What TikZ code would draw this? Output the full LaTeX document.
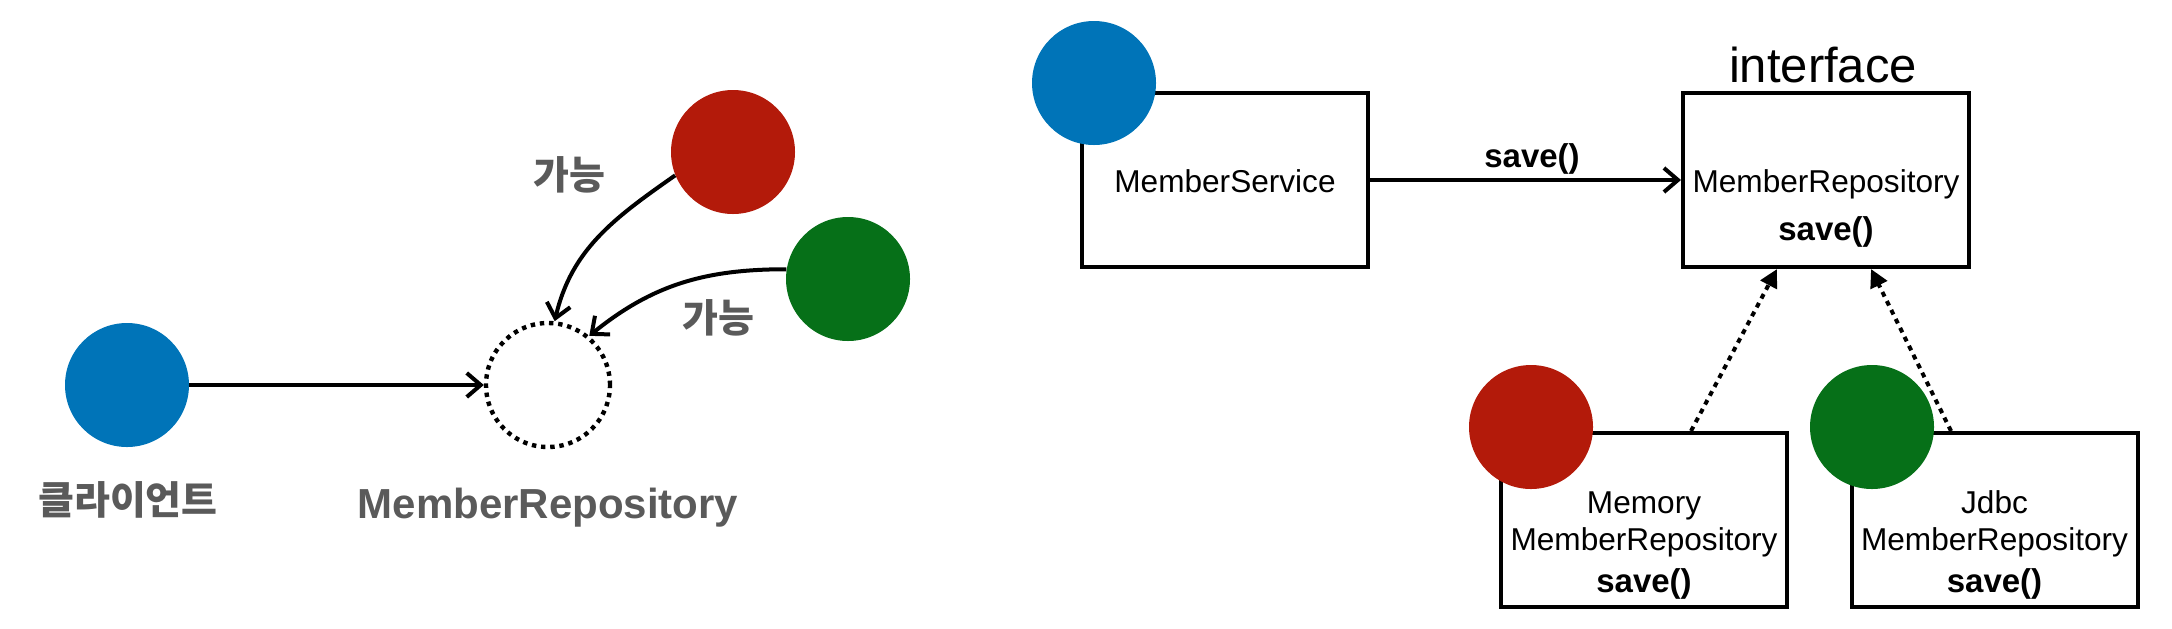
\documentclass[tikz,border=0pt]{standalone}
\usepackage{fontspec}
\setmainfont{Liberation Sans}
\newfontfamily\kr{Noto Sans CJK KR}
\usetikzlibrary{arrows.meta}
\definecolor{cblue}{RGB}{0,116,184}
\definecolor{cred}{RGB}{179,26,10}
\definecolor{cgreen}{RGB}{6,112,24}
\definecolor{tgray}{RGB}{90,90,90}
\begin{document}
\begin{tikzpicture}[x=0.5pt,y=-0.5pt,
  ball/.style={circle, inner sep=0pt, minimum size=62pt},
  ghost/.style={circle, inner sep=0pt, minimum size=62pt, draw, line width=2.2pt, dash pattern=on 2.2pt off 2.4pt},
  box/.style={draw, line width=2pt, minimum width=143pt, minimum height=87pt, inner sep=0pt},
  conn/.style={line width=2pt, -{Straight Barb[length=7pt,width=12pt]}},
  curv/.style={line width=2pt, -{Straight Barb[length=7pt,width=12pt]}},
  impl/.style={line width=2pt, dash pattern=on 2.5pt off 2.5pt, -{Triangle[length=9pt,width=9pt]}},
  krlbl/.style={font=\kr\bfseries\fontsize{19.5pt}{21pt}\selectfont, text=tgray},
  graylbl/.style={font=\bfseries\fontsize{21pt}{24pt}\selectfont, text=tgray, anchor=base},
  reg/.style={font=\fontsize{15.8pt}{18pt}\selectfont, anchor=base},
  bld/.style={font=\bfseries\fontsize{16.5pt}{19pt}\selectfont, anchor=base},
  big/.style={font=\fontsize{24.5pt}{28pt}\selectfont, anchor=base}]
\useasboundingbox (0,0) rectangle (2172,628);

% ---------- left part ----------
\node[ball, fill=cblue] (client) at (127,385) {};
\node[ghost] (repo) at (548,385) {};
\node[ball, fill=cred] (r1) at (733,152) {};
\node[ball, fill=cgreen] (g1) at (848,279) {};

\draw[conn] (client.east) -- (repo.west);
\draw[curv] (r1.202) to[out=215, in=77] (repo.84);
\draw[curv] (g1.171) to[out=180, in=39] (repo.50);

\node[krlbl] (k1) at (569,175) {가능};
\node[krlbl] (k2) at (718,318) {가능};
\node[krlbl] (kc) at (128,500) {클라이언트};
\node[graylbl] (lrepo) at (548,518) {MemberRepository};

% ---------- right part ----------
\node[box] (ms) at (1225,180) {};
\node[box] (ir) at (1826,180) {};
\node[box] (mem) at (1644,520) {};
\node[box] (jdbc) at (1994.5,520) {};

\node[ball, fill=cblue] (b2) at (1094,83) {};
\node[ball, fill=cred] (r2) at (1531,427) {};
\node[ball, fill=cgreen] (g2) at (1872,427) {};

\node[big] (tif) at (1823,82) {interface};
\node[reg] (tms) at (1225,192) {MemberService};
\node[bld] (tsave) at (1532,167) {save()};
\node[reg] (tir) at (1826,192) {MemberRepository};
\node[bld] (tirs) at (1826,240) {save()};

\node[reg] (tm1) at (1644,513) {Memory};
\node[reg] (tm2) at (1644,550) {MemberRepository};
\node[bld] (tm3) at (1644,592) {save()};
\node[reg] (tj1) at (1994.5,513) {Jdbc};
\node[reg] (tj2) at (1994.5,550) {MemberRepository};
\node[bld] (tj3) at (1994.5,592) {save()};

\draw[conn] (ms.east) -- (ir.west);
\draw[impl] ([xshift=23.5pt]mem.north) -- ([xshift=-24.5pt]ir.south);
\draw[impl] ([xshift=-21.75pt]jdbc.north) -- ([xshift=22.5pt]ir.south);
\end{tikzpicture}
\end{document}
